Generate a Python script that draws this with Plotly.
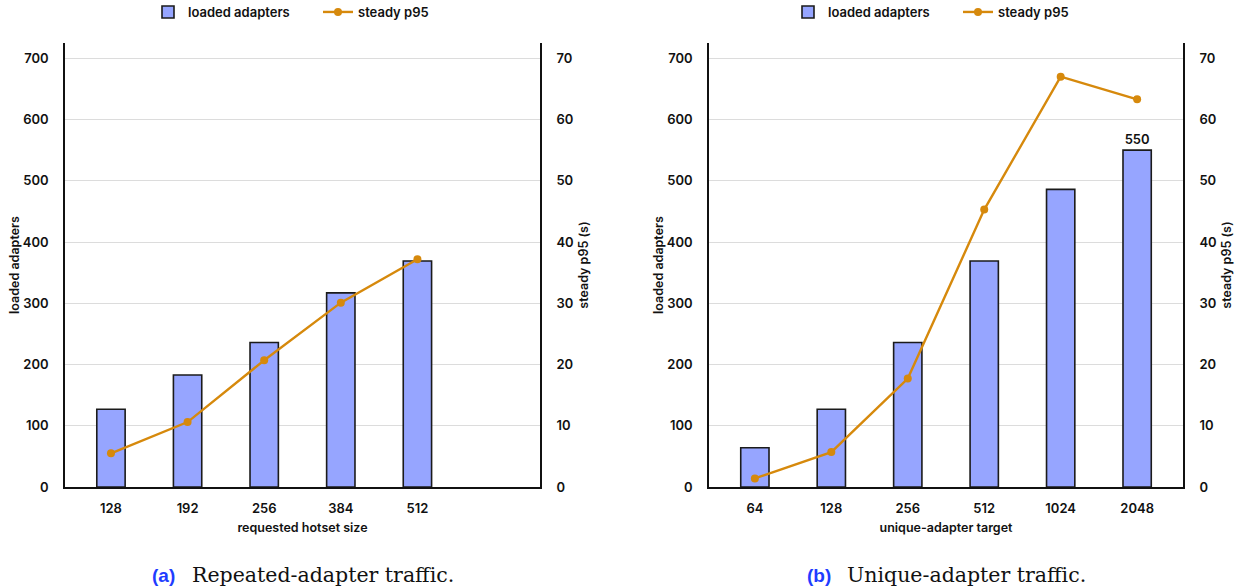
import plotly.graph_objects as go

# ---- data ----
hotset_sizes = ["128", "192", "256", "384", "512"]
hotset_loaded = [127, 183, 236, 317, 369]
hotset_p95 = [5.5, 10.6, 20.7, 30.1, 37.2]

unique_targets = ["64", "128", "256", "512", "1024", "2048"]
unique_loaded = [64, 127, 236, 369, 486, 550]
unique_p95 = [1.4, 5.7, 17.7, 45.3, 67.0, 63.3]

W, H = 1244, 587
BAR_FILL = "#96A5FF"
BAR_EDGE = "#1b1b1b"
LINE_COL = "#D6890C"
FONT = "Inter"
GRID = "#dcdcdc"

def px_x(v):
    return v / W

def px_y(v):
    return 1 - v / H

ydom = [px_y(487), px_y(43)]
dom_a = [px_x(65), px_x(540)]
dom_b = [px_x(709), px_x(1183)]

fig = go.Figure()

# label only the last bar of panel (b)
last_label = [""] * (len(unique_loaded) - 1) + [str(unique_loaded[-1])]

# panel (a)
fig.add_trace(go.Bar(x=hotset_sizes, y=hotset_loaded, name="loaded adapters",
                     marker=dict(color=BAR_FILL, line=dict(color=BAR_EDGE, width=1.6)),
                     width=0.37, xaxis="x", yaxis="y", legend="legend"))
fig.add_trace(go.Scatter(x=hotset_sizes, y=hotset_p95, name="steady p95", mode="lines+markers",
                         line=dict(color=LINE_COL, width=2.4), marker=dict(color=LINE_COL, size=8),
                         xaxis="x", yaxis="y2", legend="legend"))
# panel (b)
fig.add_trace(go.Bar(x=unique_targets, y=unique_loaded, name="loaded adapters",
                     marker=dict(color=BAR_FILL, line=dict(color=BAR_EDGE, width=1.6)),
                     width=0.37, xaxis="x2", yaxis="y3", legend="legend2",
                     text=last_label, textposition="outside", cliponaxis=False,
                     textfont=dict(family=FONT, size=13, color="#111", weight=600)))
fig.add_trace(go.Scatter(x=unique_targets, y=unique_p95, name="steady p95", mode="lines+markers",
                         line=dict(color=LINE_COL, width=2.4), marker=dict(color=LINE_COL, size=8),
                         xaxis="x2", yaxis="y4", legend="legend2"))

tickfont = dict(family=FONT, size=13, color="#111", weight=600)
titlefont = dict(family=FONT, size=12.5, color="#111", weight=600)

def xax(domain, anchor, title, cats):
    return dict(domain=domain, anchor=anchor, type="category", categoryorder="array",
                categoryarray=cats, range=[-0.6, 5.6], showgrid=False, zeroline=False,
                showline=True, linecolor="#111", linewidth=1.6, ticks="",
                ticklabelstandoff=9, tickfont=tickfont, automargin=False,
                title=dict(text=title, font=titlefont, standoff=8), fixedrange=True)

def yax_left(domain, anchor, title):
    return dict(domain=ydom, anchor=anchor, range=[0, 725], tickvals=list(range(0, 701, 100)),
                showgrid=True, gridcolor=GRID, gridwidth=1, zeroline=False,
                showline=True, linecolor="#111", linewidth=1.6, ticks="",
                ticklabelstandoff=12, tickfont=tickfont, automargin=False,
                title=dict(text=title, font=titlefont, standoff=0))

def yax_right(overlay, anchor, title):
    return dict(overlaying=overlay, side="right", anchor=anchor, range=[0, 72.5],
                tickvals=list(range(0, 71, 10)), showgrid=False, zeroline=False,
                showline=True, linecolor="#111", linewidth=1.6, ticks="",
                ticklabelstandoff=12, tickfont=tickfont, automargin=False,
                title=dict(text=title, font=titlefont, standoff=7))

legend_common = dict(orientation="h", yanchor="middle", xanchor="center", y=px_y(12),
                     font=dict(family=FONT, size=13, color="#111", weight=600),
                     bgcolor="rgba(0,0,0,0)", itemwidth=30, tracegroupgap=0,
                     entrywidth=125, entrywidthmode="pixels")

fig.update_layout(
    width=W, height=H, margin=dict(l=0, r=0, t=0, b=0, autoexpand=False),
    paper_bgcolor="white", plot_bgcolor="white",
    bargap=0.6, showlegend=True,
    xaxis=xax(dom_a, "y", "requested hotset size", hotset_sizes + [" "]),
    yaxis=yax_left(ydom, "x", "loaded adapters"),
    yaxis2=yax_right("y", "x", "steady p95 (s)"),
    xaxis2=xax(dom_b, "y3", "unique-adapter target", unique_targets),
    yaxis3=yax_left(ydom, "x2", "loaded adapters"),
    yaxis4=yax_right("y3", "x2", "steady p95 (s)"),
    legend=dict(x=px_x(318), **legend_common),
    legend2=dict(x=px_x(958), **legend_common),
)

# captions
for xl, lab, txt in [(150, "(a)", "Repeated-adapter traffic."), (805, "(b)", "Unique-adapter traffic.")]:
    fig.add_annotation(x=px_x(xl), y=px_y(575), xref="paper", yref="paper", xanchor="left",
                       yanchor="middle", showarrow=False, text=lab,
                       font=dict(family="Liberation Sans", size=19, color="#1f3dff", weight=700))
    fig.add_annotation(x=px_x(xl + 40), y=px_y(575), xref="paper", yref="paper", xanchor="left",
                       yanchor="middle", showarrow=False, text=txt,
                       font=dict(family="DejaVu Serif", size=20.5, color="#111"))

fig.write_html("out.html", config={"displayModeBar": False},
               post_script="document.body.style.margin='0px';document.body.style.overflow='hidden';")
